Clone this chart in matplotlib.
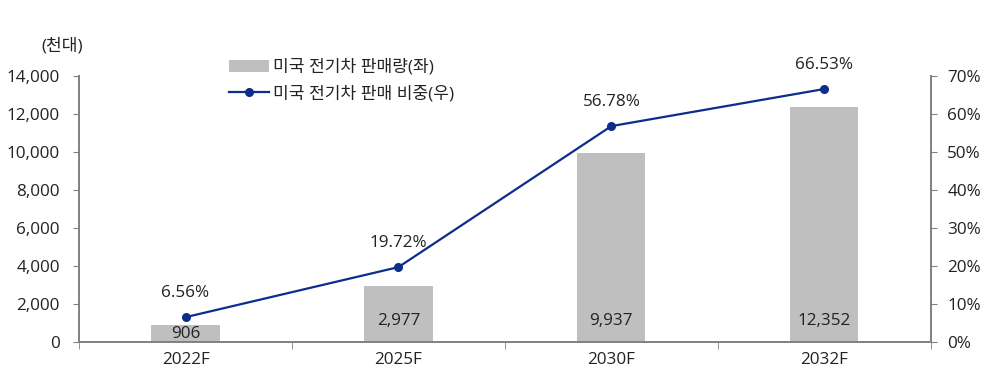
import matplotlib.pyplot as plt
import numpy as np

plt.rcParams['font.family'] = ['Open Sans', 'Noto Sans CJK KR', 'DejaVu Sans']

categories = ["2022F", "2025F", "2030F", "2032F"]
sales = [906, 2977, 9937, 12352]
share = [6.56, 19.72, 56.78, 66.53]

BAR_COLOR = "#BFBFBF"
LINE_COLOR = "#0B2D8C"
AXIS_COLOR = "#808080"
TEXT_COLOR = "#222222"
FS = 12.3

fig = plt.figure(figsize=(9.89, 3.81), dpi=100)
ax = fig.add_axes([0.080, 0.102, 0.861, 0.699])
ax2 = ax.twinx()

x = np.arange(len(categories))
bars = ax.bar(x, sales, width=0.32, color=BAR_COLOR, zorder=1)
ax.set_xlim(-0.5, 3.5)
ax.set_ylim(0, 14000)
ax.set_yticks(np.arange(0, 14001, 2000))
ax.set_yticklabels([f"{v:,}" for v in range(0, 14001, 2000)], fontsize=FS, color=TEXT_COLOR)
ax.set_xticks(x)
ax.set_xticklabels(categories, fontsize=FS, color=TEXT_COLOR)
ax.tick_params(axis="x", length=0, pad=7)
ax.set_xticks(np.arange(-0.5, 3.6, 1.0), minor=True)
ax.tick_params(axis="x", which="minor", length=5, color=AXIS_COLOR, direction="out")
ax.tick_params(axis="y", length=4, color=AXIS_COLOR, direction="out", pad=10)

# bar labels sit inside the bar near its base
for xi, v in zip(x, sales):
    ax.text(xi, min(1100, v * 0.5), f"{v:,}", ha="center", va="center",
            fontsize=FS, color=TEXT_COLOR)

line, = ax2.plot(x, share, color=LINE_COLOR, lw=1.6, marker="o", ms=5.5, zorder=3)
ax2.set_ylim(0, 70)
ax2.set_yticks(np.arange(0, 71, 10))
ax2.set_yticklabels([f"{v}%" for v in range(0, 71, 10)], fontsize=FS, color=TEXT_COLOR)
ax2.tick_params(axis="y", length=4, color=AXIS_COLOR, direction="out", pad=8)
for xi, v in zip(x, share):
    ax2.annotate(f"{v:.2f}%", (xi, v), xytext=(0, 17.5), textcoords="offset points",
                 ha="center", va="center", fontsize=FS, color=TEXT_COLOR)

for a in (ax, ax2):
    a.spines["top"].set_visible(False)
    for s in ("left", "right", "bottom"):
        a.spines[s].set_color(AXIS_COLOR)
        a.spines[s].set_linewidth(1.2)
ax.set_zorder(ax2.get_zorder() - 1)
ax.patch.set_visible(False)

ax.text(-0.02, 1.113, "(천대)", transform=ax.transAxes, ha="center", va="center",
        fontsize=FS, color=TEXT_COLOR)

fig.legend([bars, line], ["미국 전기차 판매량(좌)", "미국 전기차 판매 비중(우)"],
           loc="upper left", bbox_to_anchor=(0.216, 0.885), frameon=False,
           fontsize=FS, handlelength=2.35, handletextpad=0.25, labelspacing=0.6,
           labelcolor=TEXT_COLOR)

fig.savefig("out.png", dpi=100)
